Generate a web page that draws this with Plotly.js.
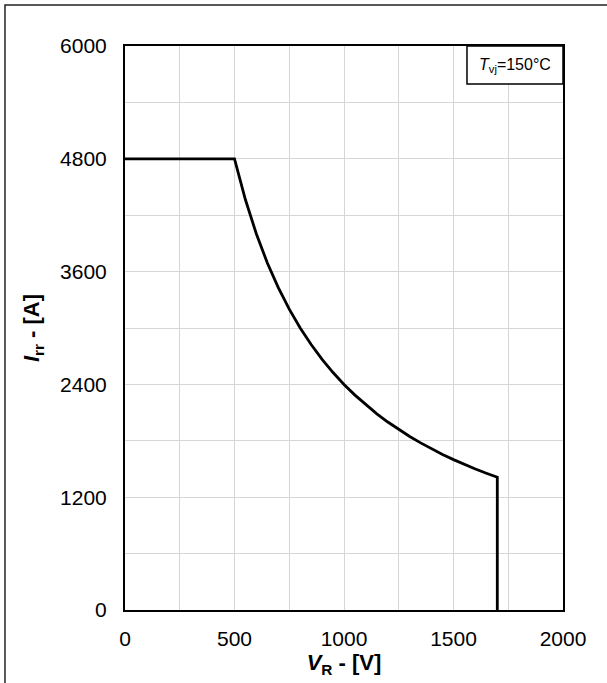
<!DOCTYPE html>
<html>
<head>
<meta charset="utf-8">
<script src="https://cdn.plot.ly/plotly-3.0.1.min.js"></script>
<style>html,body{margin:0;padding:0;background:#fff;}#chart{width:607px;height:683px;}</style>
</head>
<body>
<div id="chart"></div>
<script>
// Reverse voltage VR [V] and reverse recovery current Irr [A]
const vr  = [0, 500, 550, 600, 650, 700, 750, 800, 850, 900, 950, 1000, 1050, 1100, 1150, 1200,
             1250, 1300, 1350, 1400, 1450, 1500, 1550, 1600, 1650, 1700, 1700];
const irr = [4800, 4800, 4364, 4000, 3692, 3429, 3200, 3000, 2824, 2667, 2526, 2400, 2286, 2182, 2087, 2000,
             1920, 1846, 1778, 1714, 1655, 1600, 1548, 1500, 1455, 1412, 0];
const xTicks = [0, 500, 1000, 1500, 2000];
const yTicks = [0, 1200, 2400, 3600, 4800, 6000];
const labelText = "<i>T</i><sub>vj</sub>=150°C";

const font = "Liberation Sans, Arial, sans-serif";
const trace = {
  x: vr, y: irr, mode: "lines", type: "scatter",
  line: {color: "#000", width: 2.8}, hoverinfo: "skip"
};
const axisCommon = {
  showline: true, linecolor: "#000", linewidth: 2, mirror: true,
  showgrid: true, gridcolor: "#d6d6d6", gridwidth: 1,
  zeroline: false, ticks: "", tickfont: {family: font, size: 21, color: "#000"}
};
const layout = {
  width: 607, height: 683,
  margin: {l: 125, r: 44, t: 46, b: 73},
  paper_bgcolor: "#fff", plot_bgcolor: "#fff",
  showlegend: false,
  xaxis: Object.assign({}, axisCommon, {
    range: [0, 2000], tickvals: xTicks, ticktext: xTicks.map(String),
    minor: {dtick: 250, showgrid: true, gridcolor: "#d6d6d6", gridwidth: 1},
    ticklabelstandoff: 9,
    title: {text: "<b><i>V</i><sub>R</sub> - [V]</b>", font: {family: font, size: 22, color: "#000"}, standoff: 0}
  }),
  yaxis: Object.assign({}, axisCommon, {
    range: [0, 6000], tickvals: yTicks, ticktext: yTicks.map(String),
    minor: {dtick: 600, showgrid: true, gridcolor: "#d6d6d6", gridwidth: 1},
    ticklabelstandoff: 12,
    title: {text: "<b><i>I</i><sub>rr</sub> - [A]</b>", font: {family: font, size: 22, color: "#000"}, standoff: 14}
  }),
  shapes: [
    {type: "rect", xref: "paper", yref: "paper", x0: 0.7808, x1: 1, y0: 0.9326, y1: 1,
     line: {color: "#000", width: 1.5}, fillcolor: "#fff", layer: "above"},
    {type: "rect", xref: "paper", yref: "paper", x0: -0.2740, x1: 1.5, y0: -0.5, y1: 1.0727,
     line: {color: "#222", width: 1.5}, fillcolor: "rgba(0,0,0,0)", layer: "above"}
  ],
  annotations: [
    {xref: "paper", yref: "paper", x: 0.8904, y: 0.9663, text: labelText, showarrow: false,
     font: {family: font, size: 16, color: "#000"}, xanchor: "center", yanchor: "middle"}
  ]
};
Plotly.newPlot("chart", [trace], layout, {displayModeBar: false, staticPlot: true});
</script>
</body>
</html>
